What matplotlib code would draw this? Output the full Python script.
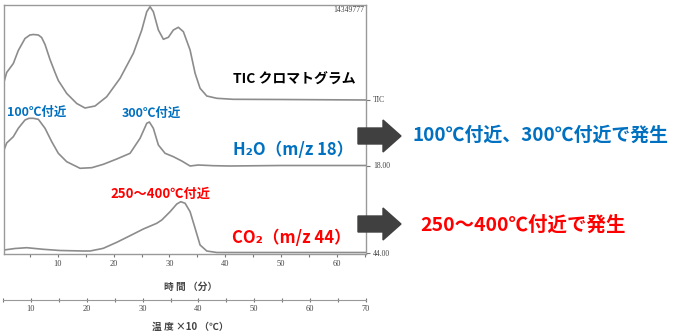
import matplotlib
matplotlib.use("Agg")
import matplotlib.pyplot as plt
from matplotlib.patches import Polygon

# retention time (min) and height of each trace above its own baseline
tic_time = [0.36, 0.84, 2.03, 2.92, 4.12, 5.0, 5.61, 6.51, 7.1, 7.71, 8.6, 9.5, 10.09,
            11.6, 13.39, 14.87, 16.67, 18.76, 21.15, 23.53, 25.04, 25.93, 26.52, 27.11,
            28.01, 28.91, 29.8, 30.7, 31.59, 32.49, 33.69, 34.59, 35.48, 36.68, 38.48,
            41.4, 50.0, 65.2]
tic_val = [17.5, 27, 36, 49, 61, 64.5, 65, 64.5, 62, 55, 40, 27, 19,
           6, -4, -8.5, -6.5, 2.8, 21.2, 46.2, 69.5, 87.8, 92.8, 87.8,
           69.5, 60.2, 62.2, 69.5, 72.2, 67.8, 49.5, 26.2, 11.2, 3.5, 1.2,
           0.2, 0, -0.5]

h2o_time = [0.36, 0.84, 2.03, 2.92, 4.12, 4.84, 5.61, 6.51, 7.71, 8.91, 10.09, 11.59,
            13.98, 16.08, 18.15, 20.56, 22.94, 24.73, 25.93, 26.4, 27.11, 28.01, 29.21,
            30.7, 32.2, 33.69, 35.18, 37.87, 40.86, 50.0, 65.2]
h2o_val = [15.5, 22.5, 28.8, 37.2, 45.5, 47.2, 47.2, 46.2, 37.2, 23.8, 12.2, 3.8,
           -2.8, -2.2, 1.2, 6.5, 12.2, 27.2, 42.2, 43.5, 37.2, 20.5, 12.2,
           8.8, 4.5, -0.5, 0.5, -0.2, -0.5, 0, 0]

co2_time = [0.36, 2.33, 4.43, 7.4, 10.39, 14.57, 15.77, 17.56, 18.15, 20.56, 22.94,
            25.32, 27.72, 28.62, 30.11, 31.31, 32.03, 32.8, 33.69, 34.59, 35.48,
            36.68, 38.48, 50.0, 65.2]
co2_val = [2.5, 4, 4.8, 3.2, 2, 1.5, 1.5, 3.5, 4.2, 10.2, 16.8,
           23.5, 29.2, 32.5, 40.8, 48.5, 50.8, 49.2, 40.8, 24.2, 7.5,
           1.5, 0, 0, 0]

trace_labels = ["TIC", "18.00", "44.00"]
time_ticks = [10, 20, 30, 40, 50, 60]
temp_ticks = [10, 20, 30, 40, 50, 60, 70]

CJK = ["Noto Sans CJK JP", "DejaVu Sans"]
BLUE = "#0070C0"
RED = "#FF0000"
GRAY = "#999999"

W, H = 675, 335


def fx(x):
    return x / W


def fy(y):
    return 1 - y / H


fig = plt.figure(figsize=(6.75, 3.35), dpi=100)

# main chromatogram box
ax = fig.add_axes([fx(4), fy(253.5), (366 - 4) / W, (253.5 - 5) / H])
base = {"TIC": 154, "18.00": 88, "44.00": 1}
for t, v, name in [(tic_time, tic_val, "TIC"), (h2o_time, h2o_val, "18.00"),
                   (co2_time, co2_val, "44.00")]:
    ax.plot(t, [b + base[name] for b in v], color="#8c8c8c", lw=1.2)

ax.set_xlim(0.36, 65.2)
ax.set_ylim(0, 248.5)
for s in ax.spines.values():
    s.set_color(GRAY)
    s.set_linewidth(1.0)
ax.set_xticks(time_ticks)
ax.set_xticks(range(5, 66, 5), minor=True)
ax.tick_params(axis="x", which="both", length=2, width=0.8, colors="#777",
               labelcolor="#444", labelsize=6, pad=3)
ax.yaxis.tick_right()
ax.set_yticks([base[n] for n in trace_labels])
ax.set_yticklabels(trace_labels)
ax.tick_params(axis="y", length=3, width=0.8, colors="#777", labelcolor="#444",
               labelsize=5.5, pad=2)
for lab in ax.get_xticklabels() + ax.get_yticklabels():
    lab.set_family("Liberation Serif")
ax.text(fx(364), fy(10), "14349777", transform=fig.transFigure, ha="right",
        va="center", fontsize=5.5, family="Liberation Serif", color="#444")

# temperature axis
ax2 = fig.add_axes([fx(3), fy(300), (366 - 3) / W, 0.0001])
ax2.set_xlim(5, 70)
ax2.set_yticks([])
for k in ["left", "right", "top"]:
    ax2.spines[k].set_visible(False)
ax2.spines["bottom"].set_color(GRAY)
ax2.set_xticks(temp_ticks)
ax2.set_xticks(range(5, 71, 5), minor=True)
ax2.tick_params(axis="x", which="both", direction="inout", length=3, width=0.8,
                colors="#777", labelcolor="#444", labelsize=6, pad=2)
for lab in ax2.get_xticklabels():
    lab.set_family("Liberation Serif")

fig.text(fx(191), fy(287), "時 間 （分）", ha="center", va="center", fontsize=7,
         family=CJK, weight="bold", color="#444")
fig.text(fx(190), fy(327), "温 度 ×10 （℃）", ha="center", va="center", fontsize=7,
         family=CJK, weight="bold", color="#444")

# annotations
def label(x, y, s, color, size):
    fig.text(fx(x), fy(y), s, ha="left", va="center", fontsize=size,
             family=CJK, weight="bold", color=color)


label(233, 80, "TIC クロマトグラム", "black", 10)
label(7, 112, "100℃付近", BLUE, 9)
label(122, 113, "300℃付近", BLUE, 9)
label(233, 150, "H₂O（m/z 18）", BLUE, 12)
label(110, 194, "250～400℃付近", RED, 9.5)
label(232, 238, "CO₂（m/z 44）", RED, 12)
label(412, 135, "100℃付近、300℃付近で発生", BLUE, 13.6)
label(420, 225, "250～400℃付近で発生", RED, 14)

# block arrows
for yc in [136, 224]:
    pts = [(358, yc - 8), (383, yc - 8), (383, yc - 16), (401, yc),
           (383, yc + 16), (383, yc + 8), (358, yc + 8)]
    fig.patches.append(Polygon([(fx(x), fy(y)) for x, y in pts], closed=True,
                               transform=fig.transFigure, color="#404040",
                               zorder=5))

fig.savefig("out.png", dpi=100)
